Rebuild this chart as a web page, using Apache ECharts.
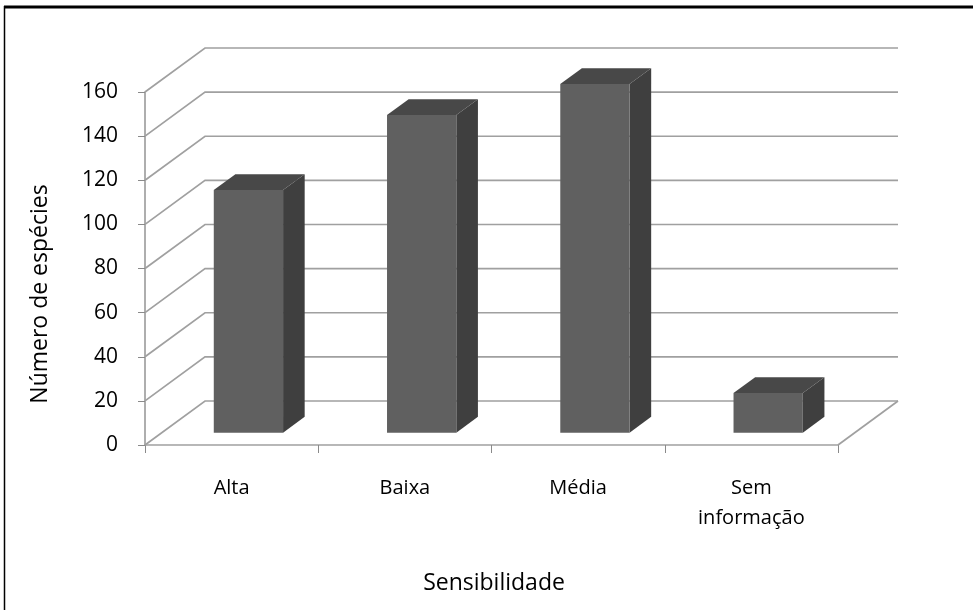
<!DOCTYPE html>
<html>
<head>
<meta charset="utf-8">
<script src="https://cdn.jsdelivr.net/npm/echarts@6/dist/echarts.min.js"></script>
<style>
  html, body { margin: 0; padding: 0; background: #ffffff; }
  #chart { width: 973px; height: 610px; }
</style>
</head>
<body>
<div id="chart"></div>
<script>
// Species counts per sensitivity class
const categories = ['Alta', 'Baixa', 'Média', 'Sem\ninformação'];
const speciesCounts = [110, 144, 158, 18];
const valueTicks = [0, 20, 40, 60, 80, 100, 120, 140, 160];
const xTitle = 'Sensibilidade';
const yTitle = 'Número de espécies';

// Oblique depth of the 3D box (pixels) and the depth slot a bar occupies
const DEPTH_DX = 60;
const DEPTH_DY = 44;
const BAR_DEPTH_FRONT = 0.28;
const BAR_DEPTH_BACK = 0.64;
const BAR_WIDTH_RATIO = 0.4;

const FONT = '"Open Sans", "Liberation Sans", sans-serif';
const GRID_COLOR = '#a0a0a0';

// Back wall, side wall and floor lines at every value tick
function renderWalls(params, api) {
  const v = api.value(1);
  const cs = params.coordSys;
  const y = api.coord([0, v])[1];
  const x0 = cs.x;
  const x1 = cs.x + cs.width;
  const children = [{
    type: 'polyline',
    shape: { points: [[x0, y], [x0 + DEPTH_DX, y - DEPTH_DY], [x1 + DEPTH_DX, y - DEPTH_DY]] },
    style: { stroke: GRID_COLOR, lineWidth: 1.7, fill: null }
  }];
  if (v === 0) {
    children.push({
      type: 'line',
      shape: { x1: x1, y1: y, x2: x1 + DEPTH_DX, y2: y - DEPTH_DY },
      style: { stroke: GRID_COLOR, lineWidth: 1.7 }
    });
  }
  return { type: 'group', children: children };
}

// Oblique-projected 3D column
function renderBar(params, api) {
  const idx = api.value(0);
  const top = api.coord([idx, api.value(1)]);
  const base = api.coord([idx, 0]);
  const band = api.size([1, 0])[0];
  const w = band * BAR_WIDTH_RATIO;
  const fx = top[0] - w / 2 + DEPTH_DX * BAR_DEPTH_FRONT;
  const fyTop = top[1] - DEPTH_DY * BAR_DEPTH_FRONT;
  const fyBot = base[1] - DEPTH_DY * BAR_DEPTH_FRONT;
  const ddx = DEPTH_DX * (BAR_DEPTH_BACK - BAR_DEPTH_FRONT);
  const ddy = DEPTH_DY * (BAR_DEPTH_BACK - BAR_DEPTH_FRONT);
  return {
    type: 'group',
    children: [
      {
        type: 'polygon',
        shape: { points: [[fx + w, fyTop], [fx + w + ddx, fyTop - ddy], [fx + w + ddx, fyBot - ddy], [fx + w, fyBot]] },
        style: { fill: '#3f3f3f' }
      },
      {
        type: 'polygon',
        shape: { points: [[fx, fyTop], [fx + w, fyTop], [fx + w + ddx, fyTop - ddy], [fx + ddx, fyTop - ddy]] },
        style: { fill: '#484848' }
      },
      {
        type: 'rect',
        shape: { x: fx, y: fyTop, width: w, height: fyBot - fyTop },
        style: { fill: '#606060' }
      }
    ]
  };
}

const chart = echarts.init(document.getElementById('chart'), null, { renderer: 'canvas' });

chart.setOption({
  animation: false,
  backgroundColor: '#ffffff',
  grid: { left: 145, right: 135, top: 92, bottom: 165, containLabel: false },
  xAxis: {
    type: 'category',
    data: categories,
    boundaryGap: true,
    axisLine: { show: true, lineStyle: { color: GRID_COLOR, width: 1.7 } },
    axisTick: { show: true, length: 8, lineStyle: { color: '#8a8a8a', width: 1 } },
    axisLabel: {
      color: '#000000', fontFamily: FONT, fontSize: 20, lineHeight: 30, margin: 28
    },
    splitLine: { show: false }
  },
  yAxis: {
    type: 'value',
    min: 0,
    max: 160,
    interval: 20,
    axisLine: { show: true, lineStyle: { color: GRID_COLOR, width: 1.7 } },
    axisTick: { show: true, length: 7, lineStyle: { color: '#8a8a8a', width: 1 } },
    axisLabel: { color: '#000000', fontFamily: FONT, fontSize: 21, margin: 27 },
    splitLine: { show: false }
  },
  series: [
    {
      type: 'custom',
      name: 'walls',
      renderItem: renderWalls,
      encode: { x: 0, y: 1 },
      data: valueTicks.map(function (v) { return [0, v]; }),
      z: 1,
      silent: true
    },
    {
      type: 'custom',
      name: 'Número de espécies',
      renderItem: renderBar,
      encode: { x: 0, y: 1 },
      data: speciesCounts.map(function (v, i) { return [i, v]; }),
      z: 5
    }
  ],
  graphic: [
    {
      type: 'line', silent: true,
      shape: { x1: 4, y1: 7, x2: 973, y2: 7 },
      style: { stroke: '#000000', lineWidth: 3 }
    },
    {
      type: 'line', silent: true,
      shape: { x1: 4.5, y1: 6, x2: 4.5, y2: 610 },
      style: { stroke: '#000000', lineWidth: 1.5 }
    },
    {
      type: 'text', silent: true,
      x: 494, y: 583,
      style: {
        text: xTitle, fill: '#000000', font: '23px ' + FONT,
        textAlign: 'center', textVerticalAlign: 'middle'
      }
    },
    {
      type: 'text', silent: true,
      x: 40, y: 294, rotation: Math.PI / 2,
      style: {
        text: yTitle, fill: '#000000', font: '23px ' + FONT,
        textAlign: 'center', textVerticalAlign: 'middle'
      }
    }
  ]
});
</script>
</body>
</html>
